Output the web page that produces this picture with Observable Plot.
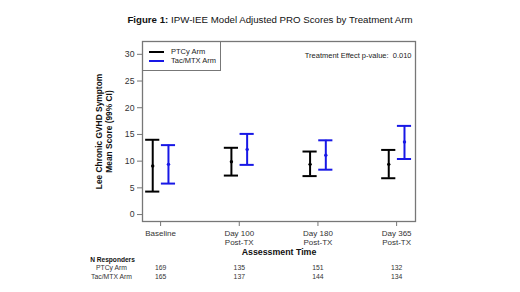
<!DOCTYPE html>
<html>
<head>
<meta charset="utf-8">
<script src="https://cdn.jsdelivr.net/npm/d3@7"></script>
<script src="https://cdn.jsdelivr.net/npm/@observablehq/plot@0.6"></script>
<style>
  body { margin:0; background:#fff; font-family:"Liberation Sans", Arial, sans-serif; }
  #wrap { position:relative; width:520px; height:292px; }
  #title { position:absolute; left:0; top:14px; width:540px; text-align:center; font-size:9.7px; color:#111; white-space:nowrap; }
  #legend { position:absolute; left:142px; top:41px; width:79px; height:30px; box-sizing:border-box;
            border-right:1.2px solid #777; border-bottom:1.2px solid #777; font-size:7.5px; color:#222; }
  #legend .row { position:absolute; left:7px; height:9px; display:flex; align-items:center; }
  #legend .sw { width:15px; height:2px; margin-right:7px; }
</style>
</head>
<body>
<div id="wrap">
  <div id="chart"></div>
  <div id="title"><b>Figure 1:</b> IPW-IEE Model Adjusted PRO Scores by Treatment Arm</div>
  <div id="legend"></div>
</div>
<script>
const categories = ["Baseline", "Day 100\nPost-TX", "Day 180\nPost-TX", "Day 365\nPost-TX"];
const arms = ["PTCy Arm", "Tac/MTX Arm"];
const armColors = ["#000000", "#1818e6"];
const ptcyMean = [9.1, 9.9, 9.4, 9.4];
const ptcyLow  = [4.3, 7.3, 7.2, 6.8];
const ptcyHigh = [14.0, 12.5, 11.8, 12.1];
const tacMean  = [9.4, 12.2, 11.1, 13.6];
const tacLow   = [5.8, 9.3, 8.4, 10.4];
const tacHigh  = [13.0, 15.1, 13.9, 16.6];
const ptcyN = [169, 135, 151, 132];
const tacN  = [165, 137, 144, 134];
const yTicks = [0, 5, 10, 15, 20, 25, 30];
const pText = "Treatment Effect p-value:  0.010";
const yTitle = "Lee Chronic GVHD Symptom\nMean Score (99% CI)";
const xTitle = "Assessment Time";

const armOffset = [-0.1, 0.1];
const capHalf = 0.09;
const rows = [];
categories.forEach((c, i) => {
  rows.push({arm: arms[0], pos: i + 1 + armOffset[0], mean: ptcyMean[i], lo: ptcyLow[i], hi: ptcyHigh[i]});
  rows.push({arm: arms[1], pos: i + 1 + armOffset[1], mean: tacMean[i], lo: tacLow[i], hi: tacHigh[i]});
});
const nPT = ptcyN.map((n, i) => ({pos: i + 1, n}));
const nTac = tacN.map((n, i) => ({pos: i + 1, n}));

const color = {domain: arms, range: armColors};

const chart = Plot.plot({
  width: 520, height: 292,
  marginLeft: 142, marginRight: 105, marginTop: 41, marginBottom: 71,
  x: {domain: [0.77, 4.24], axis: null},
  y: {domain: [-1.3, 32.4], axis: null},
  color,
  style: {fontFamily: "Liberation Sans, Arial, sans-serif", background: "white", overflow: "visible"},
  marks: [
    Plot.axisY({ticks: yTicks, tickSize: 5, tickPadding: 3, fontSize: 8.7, stroke: "#777", fill: "#333", label: null}),
    Plot.axisX({ticks: [1, 2, 3, 4], tickFormat: d => categories[d - 1], tickSize: 5, tickPadding: 3, fontSize: 8, stroke: "#777", fill: "#333", label: null, lineHeight: 1.15}),
    Plot.ruleX(rows, {x: "pos", y1: "lo", y2: "hi", stroke: "arm", strokeWidth: 2}),
    Plot.ruleY(rows, {y: "hi", x1: d => d.pos - capHalf, x2: d => d.pos + capHalf, stroke: "arm", strokeWidth: 2}),
    Plot.ruleY(rows, {y: "lo", x1: d => d.pos - capHalf, x2: d => d.pos + capHalf, stroke: "arm", strokeWidth: 2}),
    Plot.dot(rows, {x: "pos", y: "mean", fill: "arm", r: 1.7}),
    Plot.frame({stroke: "#777", strokeWidth: 1.3}),
    Plot.text([pText], {frameAnchor: "top-right", dx: -4, dy: 11, textAnchor: "end", fontSize: 7.5, fill: "#222"}),
    Plot.text([yTitle], {frameAnchor: "left", rotate: -90, dx: -39, textAnchor: "middle", fontWeight: "bold", fontSize: 8.4, lineHeight: 1.2, fill: "#111"}),
    Plot.text([xTitle], {frameAnchor: "bottom", dy: 33, fontWeight: "bold", fontSize: 8.8, fill: "#111"}),
    Plot.text(["N Responders"], {frameAnchor: "bottom-left", dx: -30, dy: 40, textAnchor: "middle", fontWeight: "bold", fontSize: 6.6, fill: "#111"}),
    Plot.text([arms[0]], {frameAnchor: "bottom-left", dx: -31, dy: 48.5, textAnchor: "middle", fontSize: 6.8, fill: "#333"}),
    Plot.text([arms[1]], {frameAnchor: "bottom-left", dx: -31, dy: 57, textAnchor: "middle", fontSize: 6.8, fill: "#333"}),
    Plot.text(nPT, {x: "pos", text: "n", frameAnchor: "bottom", dy: 48.5, fontSize: 6.8, fill: "#333"}),
    Plot.text(nTac, {x: "pos", text: "n", frameAnchor: "bottom", dy: 57, fontSize: 6.8, fill: "#333"})
  ]
});
document.getElementById("chart").appendChild(chart);

const leg = document.getElementById("legend");
arms.forEach((a, i) => {
  const r = document.createElement("div");
  r.className = "row";
  r.style.top = (6 + i * 9) + "px";
  r.innerHTML = `<span class="sw" style="background:${armColors[i]}"></span><span>${a}</span>`;
  leg.appendChild(r);
});
</script>
</body>
</html>
